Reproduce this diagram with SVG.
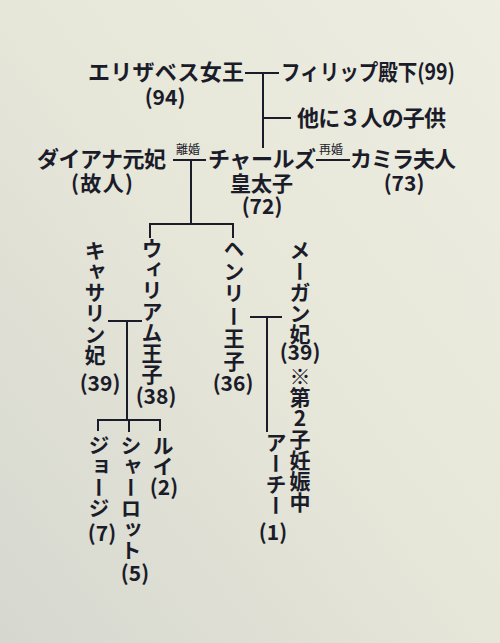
<svg xmlns="http://www.w3.org/2000/svg" width="500" height="643" viewBox="0 0 500 643">
<defs>
<linearGradient id="bg" x1="1" y1="0" x2="0" y2="1">
<stop offset="0" stop-color="#eeede1"/>
<stop offset="0.5" stop-color="#e6e6d9"/>
<stop offset="1" stop-color="#d6d7cf"/>
</linearGradient>
<style>
text{font-family:"Noto Sans CJK JP","Noto Sans",sans-serif;font-weight:700;fill:#1b1c2a;}
.h{font-size:22px;}
.h2{font-size:21px;}
.n{font-size:21px;text-anchor:middle;}
.v{font-size:21px;writing-mode:vertical-rl;}
.s{font-size:12px;font-family:"Noto Sans CJK JP",serif;font-weight:400;}
.ln{stroke:#1b1c2a;stroke-width:2;fill:none;}
</style>
</defs>
<rect width="500" height="643" fill="url(#bg)"/>
<g id="connectors" class="ln">
<path d="M245 73H279M263 73V148M263 118H291"/>
<path d="M173 160H206M191 160V224M150 238V224H233V238"/>
<path d="M316 160H350"/>
<path d="M108 321H142M127 321V420M98 431V420H160V431M129 420V432"/>
<path d="M250 317H282M267 317V432"/>
</g>
<g id="elizabeth"><text class="h" x="88" y="80" textLength="156">エリザベス女王</text><text class="n" x="165" y="105">(94)</text></g>
<g id="philip"><text class="h" x="281" y="80" textLength="174" lengthAdjust="spacingAndGlyphs">フィリップ殿下(99)</text></g>
<g id="others"><text class="h" x="297" y="126" textLength="149">他に３人の子供</text></g>
<g id="diana"><text class="h" x="37" y="167" textLength="129">ダイアナ元妃</text><text class="h2" x="71" y="191" textLength="62">(故人)</text></g>
<g id="divorce"><text class="s" x="176" y="154">離婚</text></g>
<g id="charles"><text class="h" x="208" y="167" textLength="108">チャールズ</text><text class="h2" x="230" y="191" textLength="63">皇太子</text><text class="n" x="262" y="214">(72)</text></g>
<g id="remarriage"><text class="s" x="319" y="154">再婚</text></g>
<g id="camilla"><text class="h" x="350" y="167" textLength="106">カミラ夫人</text><text class="n" x="404" y="191">(73)</text></g>
<g id="william"><text class="v" x="152" y="238">ウィリアム王子</text><text class="n" x="156" y="404">(38)</text></g>
<g id="henry"><text class="v" x="234" y="238" letter-spacing="1.5">ヘンリー王子</text><text class="n" x="233" y="391">(36)</text></g>
<g id="catherine"><text class="v" x="95" y="240">キャサリン妃</text><text class="n" x="100" y="391">(39)</text></g>
<g id="meghan"><text class="v" x="300" y="240">メーガン妃</text><text class="n" x="300" y="360">(39)</text><text class="v" x="300" y="366" style="text-orientation:upright">※第2子妊娠中</text></g>
<g id="george"><text class="v" x="99" y="435">ジョージ</text><text class="n" x="102" y="541">(7)</text></g>
<g id="charlotte"><text class="v" x="131" y="435">シャーロット</text><text class="n" x="135" y="581">(5)</text></g>
<g id="louis"><text class="v" x="163" y="435">ルイ</text><text class="n" x="164" y="495">(2)</text></g>
<g id="archie"><text class="v" x="276" y="432">アーチー</text><text class="n" x="273" y="540">(1)</text></g>
</svg>
